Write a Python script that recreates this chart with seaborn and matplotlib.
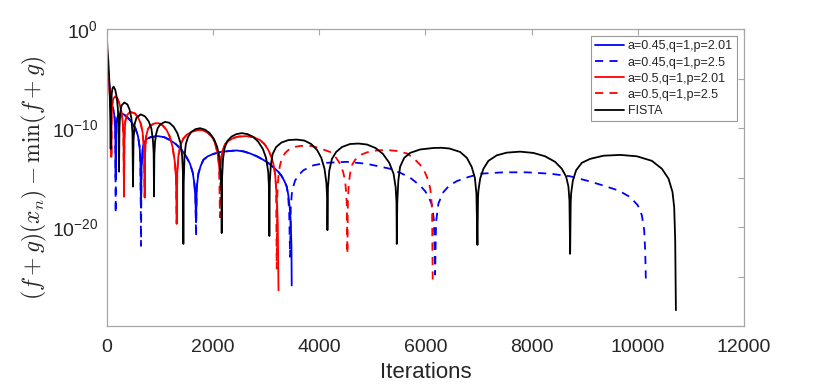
import numpy as np
import pandas as pd
import matplotlib
matplotlib.use('Agg')
import matplotlib.pyplot as plt
import seaborn as sns

# values: iteration and log10((f+g)(x_n) - min(f+g))
blue201_it = [0, 10, 30, 60, 94, 130, 150, 162, 169,
              176, 190, 215, 265, 320, 400, 470, 540, 590, 620, 635, 646,
              655, 670, 700, 750, 830, 960, 1080, 1192, 1300, 1412, 1500, 1569, 1620, 1650, 1670, 1682,
              1695, 1726, 1770, 1820, 1900, 2008, 2150, 2322, 2448, 2580, 2698, 2830, 2949, 3050, 3137,
              3230, 3295, 3350, 3389, 3420, 3445, 3465, 3478, 3483]
blue201_lg = [-0.1, -2.8, -4.4, -6.0, -7.6, -8.2, -9.0, -10.5, -15.0,
              -10.8, -9.2, -8.7, -8.5, -8.6, -8.95, -9.4, -10.0, -10.8, -11.9, -13.5, -18.0,
              -14.0, -12.4, -11.5, -11.1, -10.9, -10.8, -10.9, -11.2, -11.6, -12.2, -12.9, -13.6, -14.5,
              -15.6, -17.0, -19.5,
              -16.0, -14.6, -13.8, -13.2, -12.85, -12.6, -12.4, -12.3, -12.25, -12.35, -12.55, -12.85,
              -13.2, -13.55, -13.95, -14.4, -14.85, -15.4, -15.9, -16.8, -18.0, -19.5, -22.0, -25.9]

blue25_it = [0, 10, 30, 60, 94, 130, 150, 162, 169,
             176, 190, 215, 265, 320, 400, 470, 540, 590, 620, 635, 646,
             655, 670, 700, 750, 830, 960, 1080, 1192, 1300, 1412, 1500, 1569, 1620, 1650, 1670, 1682,
             1695, 1726, 1770, 1820, 1900, 2008, 2150, 2322, 2448, 2580, 2698, 2830, 2949, 3050, 3137,
             3230, 3295, 3350, 3389, 3415, 3435, 3452,
             3465, 3490, 3546, 3620, 3703, 3891, 4143, 4519, 4896, 5335, 5523, 5711, 5900, 6000, 6080,
             6120, 6160, 6182,
             6200, 6245, 6339, 6450, 6591, 6800, 7030, 7468, 7908, 8347, 8724, 9038, 9352, 9634, 9854,
             9999, 10074, 10118, 10137, 10149]
blue25_lg = [-0.1, -2.8, -4.4, -6.0, -7.6, -8.2, -9.0, -10.5, -18.6,
             -10.8, -9.2, -8.7, -8.5, -8.6, -8.95, -9.4, -10.0, -10.8, -11.9, -13.5, -21.9,
             -14.0, -12.4, -11.5, -11.1, -10.9, -10.8, -10.9, -11.2, -11.6, -12.2, -12.9, -13.6, -14.5,
             -15.6, -17.0, -21.0,
             -16.0, -14.6, -13.8, -13.2, -12.85, -12.6, -12.4, -12.3, -12.25, -12.35, -12.55, -12.85,
             -13.2, -13.55, -13.95, -14.4, -14.85, -15.4, -15.9, -16.8, -18.5, -23.0,
             -18.0, -16.3, -15.3, -14.7, -14.25, -13.75, -13.5, -13.4, -13.6, -14.1, -14.5, -15.0,
             -15.8, -16.4, -17.2, -17.7, -19.3, -24.8,
             -19.5, -17.6, -16.45, -15.8, -15.35, -14.95, -14.6, -14.46, -14.46, -14.6, -14.86, -15.3,
             -15.8, -16.3, -16.96, -17.8, -18.8, -20.3, -22.4, -25.2]

red201_it = [0, 10, 30, 55, 75, 83, 87,
             93, 105, 125, 160, 200, 240, 275, 300, 316, 326,
             333, 350, 380, 420, 470, 530, 590, 640, 675, 700, 716,
             723, 740, 775, 830, 909, 980, 1060, 1130, 1190, 1240, 1280, 1305, 1318,
             1328, 1350, 1390, 1443, 1510, 1600, 1700, 1800, 1900, 1980, 2040, 2090, 2115, 2133,
             2142, 2160, 2184, 2230, 2290, 2380, 2478, 2636, 2760, 2887, 2970, 3043, 3100, 3137, 3170,
             3188, 3205, 3220, 3234]
red201_lg = [-0.1, -2.3, -4.3, -6.2, -8.2, -10.0, -12.9,
             -9.0, -7.6, -7.0, -6.8, -7.0, -7.5, -8.3, -9.3, -10.8, -16.9,
             -11.0, -9.3, -8.7, -8.45, -8.4, -8.5, -8.9, -9.5, -10.4, -11.8, -17.0,
             -12.5, -10.9, -10.1, -9.7, -9.5, -9.5, -9.75, -10.2, -10.9, -11.9, -13.3, -15.0, -19.65,
             -14.5, -12.8, -11.7, -11.05, -10.65, -10.35, -10.2, -10.2, -10.45, -10.85, -11.5, -12.6,
             -13.8, -15.0,
             -14.2, -12.9, -12.2, -11.6, -11.3, -11.0, -10.85, -10.8, -10.9, -11.2, -11.6, -12.2, -12.9,
             -13.6, -14.6, -15.9, -17.5, -19.5, -26.4]

red25_it = [0, 10, 30, 55, 75, 83, 87,
            93, 105, 125, 160, 200, 240, 275, 300, 316, 326,
            333, 350, 380, 420, 470, 530, 590, 640, 675, 700, 716,
            723, 740, 775, 830, 909, 980, 1060, 1130, 1190, 1240, 1280, 1305, 1318,
            1328, 1350, 1390, 1443, 1510, 1600, 1700, 1800, 1900, 1980, 2040, 2090, 2115, 2133,
            2142, 2160, 2184, 2230, 2290, 2380, 2478, 2636, 2760, 2887, 2970, 3043, 3100, 3137, 3170,
            3188, 3201,
            3210, 3230, 3260, 3295, 3360, 3420, 3530, 3640, 3750, 3850, 3960, 4050, 4205, 4320, 4393,
            4450, 4487, 4510, 4522, 4531,
            4540, 4555, 4581, 4620, 4676, 4780, 4896, 5080, 5272, 5460, 5649, 5774, 5900, 5994, 6056,
            6090, 6110, 6125, 6138]
red25_lg = [-0.1, -2.3, -4.3, -6.2, -8.2, -10.0, -12.9,
            -9.0, -7.6, -7.0, -6.8, -7.0, -7.5, -8.3, -9.3, -10.8, -16.9,
            -11.0, -9.3, -8.7, -8.45, -8.4, -8.5, -8.9, -9.5, -10.4, -11.8, -17.0,
            -12.5, -10.9, -10.1, -9.7, -9.5, -9.5, -9.75, -10.2, -10.9, -11.9, -13.3, -15.0, -19.65,
            -14.5, -12.8, -11.7, -11.05, -10.65, -10.35, -10.2, -10.2, -10.45, -10.85, -11.5, -12.6,
            -13.8, -19.0,
            -14.2, -12.9, -12.2, -11.6, -11.3, -11.0, -10.85, -10.8, -10.9, -11.2, -11.6, -12.2, -12.9,
            -13.6, -14.6, -15.9, -24.2,
            -17.0, -15.0, -13.8, -13.1, -12.5, -12.2, -11.9, -11.8, -11.75, -11.8, -11.95, -12.1, -12.4,
            -13.0, -13.6, -14.4, -15.3, -16.6, -18.0, -22.7,
            -17.5, -15.8, -14.6, -13.7, -13.2, -12.7, -12.45, -12.25, -12.2, -12.3, -12.55, -13.0,
            -13.7, -14.5, -15.3, -16.1, -17.0, -18.5, -25.9]

fista_it = [0, 15, 30, 50, 65, 75,
            82, 95, 110, 130, 160, 190, 210, 222, 232,
            240, 255, 280, 332, 390, 430, 465, 485, 495,
            505, 525, 560, 640, 720, 790, 840, 870, 884, 891,
            897, 910, 930, 960, 1010, 1098, 1180, 1260, 1330, 1390, 1420, 1435, 1443,
            1450, 1465, 1490, 1530, 1590, 1670, 1757, 1850, 1940, 2020, 2080, 2120, 2145, 2160, 2165,
            2172, 2190, 2220, 2270, 2350, 2440, 2542, 2650, 2750, 2850, 2940, 3000, 3040, 3055, 3062,
            3070, 3090, 3125, 3190, 3290, 3420, 3578, 3720, 3850, 3960, 4040, 4100, 4135, 4150, 4155,
            4165, 4190, 4240, 4320, 4430, 4580, 4738, 4900, 5060, 5200, 5320, 5400, 5440, 5455, 5461,
            5470, 5490, 5523, 5600, 5711, 5900, 6150, 6300, 6450, 6653, 6780, 6870, 6930, 6960, 6979,
            6990, 6998, 7030, 7092, 7186, 7344, 7532, 7782, 8033, 8253, 8441, 8567, 8649, 8692, 8711,
            8724,
            8735, 8743, 8775, 8837, 8944, 9101, 9352, 9666, 9980, 10263, 10451, 10576, 10651, 10683,
            10702, 10715]
fista_lg = [-0.1, -2.2, -3.1, -5.3, -8.0, -12.1,
            -8.0, -6.5, -5.95, -5.8, -6.1, -6.9, -8.0, -9.5, -14.4,
            -10.0, -8.4, -7.7, -7.4, -7.6, -8.1, -9.0, -10.5, -15.9,
            -11.2, -9.6, -8.95, -8.6, -8.8, -9.3, -10.0, -11.2, -12.5, -16.9,
            -12.7, -11.4, -10.6, -10.0, -9.6, -9.36, -9.45, -9.85, -10.5, -11.5, -12.8, -14.5, -21.7,
            -15.5, -12.8, -11.6, -10.9, -10.4, -10.1, -10.0, -10.15, -10.5, -11.1, -11.9, -12.9, -14.5,
            -16.5, -20.6,
            -15.0, -13.1, -12.0, -11.3, -10.85, -10.6, -10.5, -10.6, -10.85, -11.35, -12.1, -13.0,
            -14.4, -16.0, -20.9,
            -15.5, -13.7, -12.6, -11.9, -11.45, -11.2, -11.15, -11.25, -11.6, -12.2, -13.0, -14.1,
            -15.5, -17.0, -20.3,
            -16.0, -14.3, -13.1, -12.4, -11.9, -11.6, -11.55, -11.65, -12.0, -12.6, -13.5, -14.6,
            -16.0, -17.5, -21.7,
            -17.5, -15.3, -13.9, -13.0, -12.5, -12.15, -12.0, -11.98, -12.05, -12.4, -13.0, -13.9,
            -15.0, -16.6, -21.8,
            -17.0, -16.3, -15.1, -14.1, -13.3, -12.74, -12.47, -12.37, -12.5, -12.84, -13.4, -14.1,
            -14.9, -15.9, -17.3, -22.7,
            -17.5, -16.6, -15.3, -14.25, -13.5, -13.1, -12.78, -12.7, -12.84, -13.3, -14.1, -15.1,
            -16.45, -18.0, -21.35, -28.4]

labels = ['a=0.45,q=1,p=2.01', 'a=0.45,q=1,p=2.5', 'a=0.5,q=1,p=2.01', 'a=0.5,q=1,p=2.5', 'FISTA']

sns.set_style('white')
plt.rcParams['font.family'] = ['Liberation Sans', 'DejaVu Sans']

fig = plt.figure(figsize=(8.22, 3.86), dpi=100)
ax = fig.add_axes([0.1298, 0.1554, 0.7755, 0.7687])

runs = [(blue201_it, blue201_lg, 'blue', '-'),
        (blue25_it, blue25_lg, 'blue', '--'),
        (red201_it, red201_lg, 'red', '-'),
        (red25_it, red25_lg, 'red', '--'),
        (fista_it, fista_lg, 'black', '-')]

for (it, lg, col, ls), lab in zip(runs, labels):
    df = pd.DataFrame({'iteration': it, 'gap': 10.0 ** np.array(lg)})
    sns.lineplot(data=df, x='iteration', y='gap', ax=ax, color=col, linestyle=ls,
                 lw=1.3, estimator=None, sort=False, label=lab)
    if ls == '--':
        ax.lines[-1].set_dashes((4.5, 3.5))

ax.set_yscale('log')
ax.set_xlim(0, 12000)
ax.set_ylim(1e-30, 1e0)
ax.set_xticks(range(0, 12001, 2000))
ax.set_yticks([10.0 ** e for e in range(-25, 1, 5)])
ax.set_yticklabels([r'$\mathregular{10^{%d}}$' % e if e % 10 == 0 else '' for e in range(-25, 1, 5)])
ax.minorticks_off()
ax.tick_params(direction='in', length=4, width=0.8, color='0.65', labelcolor='0.15',
               labelsize=14, top=True, right=True)
ax.tick_params(axis='x', pad=9)
ax.tick_params(axis='y', pad=6)
for sp in ax.spines.values():
    sp.set_color('0.65')
    sp.set_linewidth(0.9)

ax.set_xlabel('Iterations', fontsize=16, labelpad=5, color='0.15')
ax.set_ylabel(r'$(f+g)(x_n)-\min(f+g)$', fontsize=17, math_fontfamily='cm', labelpad=2,
              color='0.15')

leg = ax.legend(loc='upper right', bbox_to_anchor=(0.989, 0.977), borderaxespad=0,
                fontsize=9, handlelength=2.3, handletextpad=0.3, labelspacing=0.33,
                borderpad=0.35, fancybox=False, framealpha=1)
leg.get_frame().set_edgecolor('0.6')
leg.get_frame().set_linewidth(0.8)

fig.savefig('out.png', dpi=100)
